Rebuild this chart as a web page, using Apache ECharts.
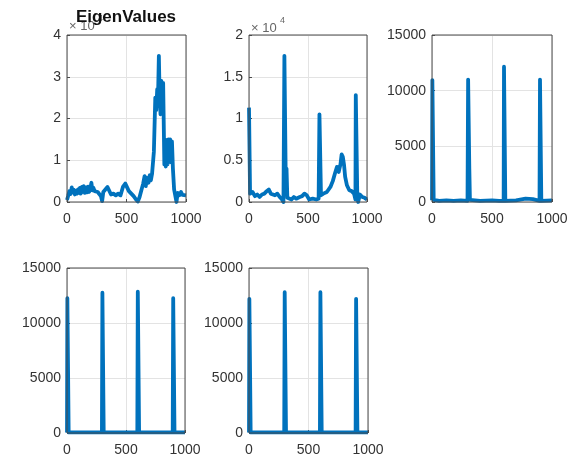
<!DOCTYPE html>
<html>
<head>
<meta charset="utf-8">
<script src="https://cdn.jsdelivr.net/npm/echarts@6/dist/echarts.min.js"></script>
<style>
  html, body { margin: 0; padding: 0; background: #fff; }
  #chart { width: 573px; height: 457px; }
</style>
</head>
<body>
<div id="chart"></div>
<script>
// Eigenvalue traces, one per panel, as [index, value] pairs
const eigen1 = [
  [0, 500], [10, 1500], [20, 2600], [30, 1900], [40, 3500], [50, 2300], [58, 2900],
  [66, 1800], [75, 2600], [85, 2000], [92, 3000], [100, 2200], [108, 3400],
  [115, 2000], [125, 3600], [132, 2400], [140, 3800], [150, 2200], [160, 3500],
  [168, 2300], [177, 3700], [186, 2400], [196, 3200], [205, 4600], [213, 2800],
  [222, 3400], [232, 2600], [245, 2800], [258, 2400], [270, 2800], [285, 1400],
  [295, 200], [305, 2400], [320, 2600], [340, 3600], [355, 4000], [370, 1800],
  [390, 2000], [410, 1600], [430, 2000], [450, 1600], [470, 3600], [490, 4400],
  [505, 4200], [520, 2600], [540, 2000], [560, 1400], [580, 600], [595, 100],
  [610, 1200], [625, 2800], [640, 4400], [652, 6200], [662, 3800], [672, 5800],
  [685, 4600], [695, 6400], [705, 5200], [715, 6800], [730, 12000], [742, 25000],
  [750, 22000], [758, 27000], [765, 25000], [772, 35000], [778, 26000], [786, 21000],
  [793, 29000], [800, 24000], [808, 28500], [818, 9000], [824, 15000], [830, 8500],
  [838, 14000], [845, 9000], [852, 15000], [860, 10000], [867, 15000], [874, 9500],
  [882, 14500], [890, 8000], [900, 3000], [910, 1500], [920, 0], [930, 2200],
  [945, 1600], [958, 2400], [970, 1700], [985, 2100], [1000, 1600]
];
const eigen2 = [
  [0, 11300], [4, 11300], [9, 1000], [15, 800], [30, 1200], [50, 700], [70, 900],
  [90, 600], [110, 900], [130, 1000], [150, 1300], [168, 1500], [185, 1000],
  [200, 1100], [220, 800], [240, 1000], [260, 600], [280, 300], [292, 0],
  [300, 17500], [306, 17500], [312, 2000], [318, 4000], [325, 500], [340, 400],
  [360, 300], [380, 600], [400, 400], [430, 600], [450, 700], [470, 1000],
  [490, 800], [510, 300], [540, 400], [570, 300], [590, 400], [597, 10500],
  [603, 10500], [610, 800], [630, 1000], [660, 1200], [690, 1800], [710, 2500],
  [730, 3500], [745, 4200], [760, 3600], [775, 4500], [785, 5700], [795, 5400],
  [805, 4500], [815, 3000], [830, 2000], [850, 1400], [870, 1300], [890, 1000],
  [902, 300], [905, 12800], [912, 12800], [918, 500], [925, 0], [940, 900],
  [960, 600], [980, 500], [1000, 300]
];
const eigen3 = [
  [0, 150], [3, 10950], [9, 10950], [14, 200], [60, 100], [120, 150], [180, 100],
  [240, 150], [296, 100], [301, 11000], [307, 11000], [311, 3000], [316, 200],
  [400, 100], [500, 150], [560, 100], [597, 100], [600, 12150], [606, 12150],
  [611, 100], [700, 150], [780, 300], [840, 250], [896, 100], [900, 11000],
  [906, 11000], [911, 100], [1000, 150]
];
const eigen4 = [
  [0, 50], [3, 12250], [9, 12250], [14, 50], [296, 50], [300, 12750], [306, 12750],
  [311, 50], [596, 50], [600, 12850], [606, 12850], [611, 50], [896, 50],
  [900, 12250], [906, 12250], [911, 50], [1000, 50]
];
const eigen5 = [
  [0, 50], [3, 12200], [9, 12200], [14, 50], [296, 50], [300, 12800], [306, 12800],
  [311, 50], [596, 50], [600, 12800], [606, 12800], [611, 50], [896, 50],
  [900, 12200], [906, 12200], [911, 50], [1000, 50]
];
const seriesData = [eigen1, eigen2, eigen3, eigen4, eigen5];

// Axis ranges per panel
const yMaxes = [40000, 20000, 15000, 15000, 15000];
const yIntervals = [10000, 5000, 5000, 5000, 5000];
const titleText = 'EigenValues';
const exponentBase = '× 10';
const exponentPower = '4';

const FONT = 'Liberation Sans, Arial, Helvetica, sans-serif';
const BLUE = '#0072BD';
const AXIS = '#4a4a4a';
const TEXT = '#333333';

const grids = [
  { left: 67,  top: 35,  width: 119, height: 167 },
  { left: 249, top: 35,  width: 118, height: 167 },
  { left: 432, top: 35,  width: 120, height: 167 },
  { left: 67,  top: 268, width: 118, height: 165 },
  { left: 249, top: 268, width: 119, height: 165 }
];

const chart = echarts.init(document.getElementById('chart'), null, { renderer: 'canvas' });

const xAxes = [], yAxes = [], series = [];
grids.forEach((g, i) => {
  const scaled = i < 2;
  xAxes.push({
    type: 'value', gridIndex: i, min: 0, max: 1000, interval: 500,
    axisLine: { show: false },
    axisTick: { show: true, inside: true, length: 3, lineStyle: { color: AXIS } },
    axisLabel: { color: TEXT, fontSize: 14, fontFamily: FONT, margin: 10, formatter: v => String(v) },
    splitLine: { show: true, lineStyle: { color: '#e3e3e3', width: 1 } }
  });
  yAxes.push({
    type: 'value', gridIndex: i, min: 0, max: yMaxes[i], interval: yIntervals[i],
    axisLine: { show: false },
    axisTick: { show: true, inside: true, length: 3, lineStyle: { color: AXIS } },
    axisLabel: {
      color: TEXT, fontSize: 14, fontFamily: FONT, margin: 6,
      formatter: v => scaled ? String(v / 10000) : String(v)
    },
    splitLine: { show: true, lineStyle: { color: '#e3e3e3', width: 1 } }
  });
  series.push({
    type: 'line', xAxisIndex: i, yAxisIndex: i, data: seriesData[i],
    showSymbol: false, symbol: 'none', clip: true,
    lineStyle: { color: BLUE, width: 3.8, join: 'round' }, z: 3
  });
});

chart.setOption({
  animation: false,
  backgroundColor: '#ffffff',
  grid: grids.map(g => Object.assign({ show: true, borderColor: AXIS, borderWidth: 1, backgroundColor: 'transparent', z: 4 }, g)),
  xAxis: xAxes,
  yAxis: yAxes,
  series: series,
  graphic: [
    { type: 'text', x: 69, y: 20, z: 1, style: { text: exponentBase, fill: '#666', font: '13px ' + FONT } },
    { type: 'text', x: 98, y: 14, z: 1, style: { text: exponentPower, fill: '#666', font: '9px ' + FONT } },
    { type: 'text', x: 251, y: 22, z: 1, style: { text: exponentBase, fill: '#666', font: '13px ' + FONT } },
    { type: 'text', x: 280, y: 16, z: 1, style: { text: exponentPower, fill: '#666', font: '9px ' + FONT } },
    { type: 'text', x: 126, y: 9, z: 10, style: { text: titleText, fill: '#111', font: 'bold 17px ' + FONT, align: 'center' } }
  ]
});
</script>
</body>
</html>
